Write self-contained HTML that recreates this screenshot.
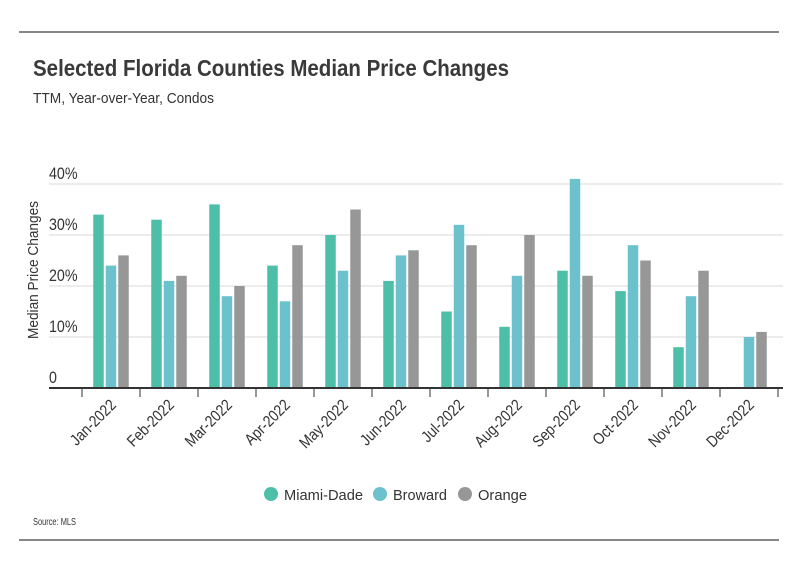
<!DOCTYPE html>
<html><head><meta charset="utf-8"><style>
body{margin:0;background:#fff;width:799px;height:575px;overflow:hidden;font-family:"Liberation Sans",sans-serif;color:#333}
</style></head><body>
<svg width="799" height="575" style="font-family:'Liberation Sans',sans-serif">
<line x1="19" y1="32" x2="779" y2="32" stroke="#111" stroke-width="1"/>
<line x1="19" y1="540" x2="779" y2="540" stroke="#111" stroke-width="1"/>
<text x="33" y="76" font-size="23" font-weight="bold" fill="#3a3a3a" textLength="476" lengthAdjust="spacingAndGlyphs">Selected Florida Counties Median Price Changes</text>
<text x="33" y="103" font-size="15" fill="#333" textLength="181" lengthAdjust="spacingAndGlyphs">TTM, Year-over-Year, Condos</text>
<text transform="translate(38,270) rotate(-90)" text-anchor="middle" font-size="15" fill="#333" textLength="138" lengthAdjust="spacingAndGlyphs">Median Price Changes</text>
<g id="grid"></g><g id="bars"></g><g id="xaxis"></g>
<g>
<circle cx="271" cy="494" r="7" fill="#4dbfa8"/>
<text x="284" y="500" font-size="15" fill="#333" textLength="79" lengthAdjust="spacingAndGlyphs">Miami-Dade</text>
<circle cx="380" cy="494" r="7" fill="#6cc2cc"/>
<text x="393" y="500" font-size="15" fill="#333" textLength="54" lengthAdjust="spacingAndGlyphs">Broward</text>
<circle cx="465" cy="494" r="7" fill="#979797"/>
<text x="478" y="500" font-size="15" fill="#333" textLength="49" lengthAdjust="spacingAndGlyphs">Orange</text>
</g>
<text x="33" y="525" font-size="10" fill="#333" textLength="43" lengthAdjust="spacingAndGlyphs">Source: MLS</text>
</svg>
<script>
const categories=["Jan-2022","Feb-2022","Mar-2022","Apr-2022","May-2022","Jun-2022","Jul-2022","Aug-2022","Sep-2022","Oct-2022","Nov-2022","Dec-2022"];
const miamiDade=[34,33,36,24,30,21,15,12,23,19,8,0];
const broward=[24,21,18,17,23,26,32,22,41,28,18,10];
const orange=[26,22,20,28,35,27,28,30,22,25,23,11];
const yTicks=[0,10,20,30,40];
const yTickLabels=["0","10%","20%","30%","40%"];
const NS="http://www.w3.org/2000/svg";
const x0=82,band=58,y0=388,pxPer=5.1;
const y=v=>y0-v*pxPer;
const xc=i=>x0+band*(i+0.5);
function mk(t,a,p){const e=document.createElementNS(NS,t);for(const k in a)e.setAttribute(k,a[k]);p.appendChild(e);return e;}
const grid=document.getElementById('grid'),bars=document.getElementById('bars'),xa=document.getElementById('xaxis');
yTicks.forEach((v,i)=>{
 if(v>0){const l=mk('line',{x1:49,x2:783,y1:y(v),y2:y(v),stroke:'#d9d9d9','stroke-width':1},grid);
 
 }
 const t=mk('text',{transform:`translate(49,${y(v)-5}) scale(0.84,1)`,'font-size':17,fill:'#333'},grid);t.textContent=yTickLabels[i];
 
 
});
const series=[[miamiDade,'#4dbfa8','miami-dade'],[broward,'#6cc2cc','broward'],[orange,'#979797','orange']];
const bw=10.5,gap=2;
categories.forEach((c,i)=>{
 series.forEach((s,j)=>{
  const v=s[0][i];if(v<=0)return;
  const bx=xc(i)+(j-1)*(bw+gap)-bw/2;
  const r=mk('rect',{x:bx,y:y(v),width:bw,height:y0-y(v),fill:s[1]},bars);
  
  
 });
 const tk=mk('line',{x1:x0+band*i,x2:x0+band*i,y1:y0,y2:y0+9,stroke:'#333','stroke-width':1},xa);
 
 
 const t=mk('text',{transform:`translate(${xc(i)+6},${y0+18}) rotate(-45) scale(0.86,1)`,'text-anchor':'end','font-size':16,fill:'#333'},xa);
 t.textContent=c;
 
 
});
const tk=mk('line',{x1:x0+band*12,x2:x0+band*12,y1:y0,y2:y0+9,stroke:'#333','stroke-width':1},xa);


const ax=mk('line',{x1:49,x2:783,y1:y0,y2:y0,stroke:'#333','stroke-width':2},xa);


</script>
</body></html>
